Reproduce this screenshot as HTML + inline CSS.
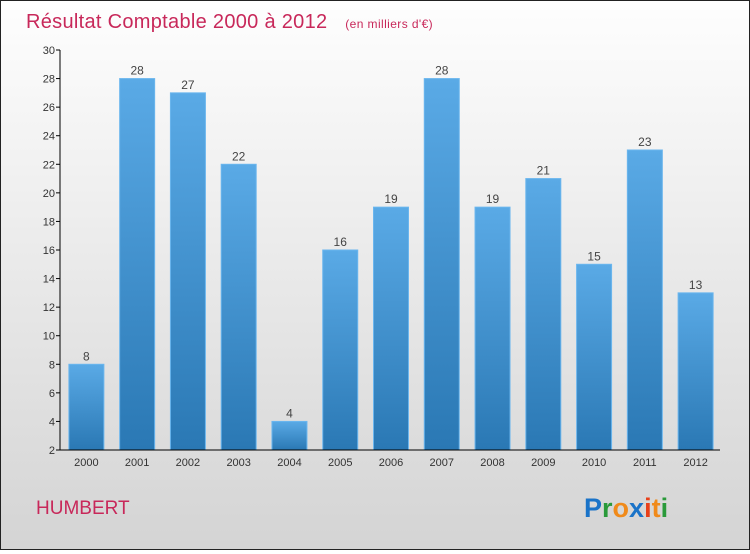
<!DOCTYPE html>
<html><head><meta charset="utf-8"><style>
html,body{margin:0;padding:0}
body{width:750px;height:550px;overflow:hidden;font-family:"Liberation Sans",sans-serif}
#wrap{position:relative;width:748px;height:548px;border:1px solid #222;background:linear-gradient(#fefefe,#d4d4d4)}
</style></head><body>
<div id="wrap">
<svg id="svg" width="748" height="548" xmlns="http://www.w3.org/2000/svg">
<defs><linearGradient id="bg" x1="0" y1="0" x2="0" y2="1"><stop offset="0" stop-color="#5aaae6"/><stop offset="1" stop-color="#2a78b4"/></linearGradient></defs>
<text x="25" y="27" font-size="20" fill="#c8285a" letter-spacing="0.3">Résultat Comptable 2000 à 2012 <tspan font-size="12" dx="12" letter-spacing="0.4">(en milliers d'€)</tspan></text>
<text x="35" y="513" font-size="19" fill="#c8285a">HUMBERT</text>
<g font-size="27" font-weight="bold">
<text x="583" y="516"><tspan fill="#1a73c8">P</tspan><tspan fill="#2a9a3a">r</tspan><tspan fill="#f08a1a">o</tspan><tspan fill="#1a73c8">x</tspan><tspan fill="#e8401a">i</tspan><tspan fill="#f08a1a">t</tspan><tspan fill="#2a9a3a">i</tspan></text></g>
<g id="plot"></g>
</svg></div>
<script>
const years=["2000","2001","2002","2003","2004","2005","2006","2007","2008","2009","2010","2011","2012"];
const values=[8,28,27,22,4,16,19,28,19,21,15,23,13];
const yTicks=[2,4,6,8,10,12,14,16,18,20,22,24,26,28,30];
(function(){
const NS="http://www.w3.org/2000/svg";
const g=document.getElementById('plot');
const x0=59,x1=719,yMin=2,yMax=30,yTop=49,yBot=449;
const bw=(x1-x0)/years.length;
const y=v=>yBot-(v-yMin)/(yMax-yMin)*(yBot-yTop);
function el(t,a){const e=document.createElementNS(NS,t);for(const k in a)e.setAttribute(k,a[k]);g.appendChild(e);return e;}
values.forEach((v,i)=>{
 const cx=x0+bw*(i+0.5)+1;
 const r=el('rect',{x:cx-17.5,y:y(v),width:35,height:yBot-y(v),fill:'url(#bg)',stroke:'#6bb6ee','stroke-width':1});
 
 
 const t=el('text',{x:cx,y:y(v)-4,'text-anchor':'middle','font-size':12,fill:'#444'});t.textContent=v;
 
 
 const xl=el('text',{x:cx,y:yBot+16,'text-anchor':'middle','font-size':11,fill:'#333'});xl.textContent=years[i];
 
 
});
yTicks.forEach(v=>{
 el('line',{x1:x0-4,x2:x0,y1:y(v),y2:y(v),stroke:'#000'});
 const t=el('text',{x:x0-5,y:y(v)+4,'text-anchor':'end','font-size':11,fill:'#333'});t.textContent=v;
 
 
});
const ya=el('line',{x1:x0,x2:x0,y1:yTop,y2:yBot,stroke:'#000'});


const xa=el('line',{x1:x0,x2:x1,y1:yBot,y2:yBot,stroke:'#000'});


})();
</script>
</body></html>
